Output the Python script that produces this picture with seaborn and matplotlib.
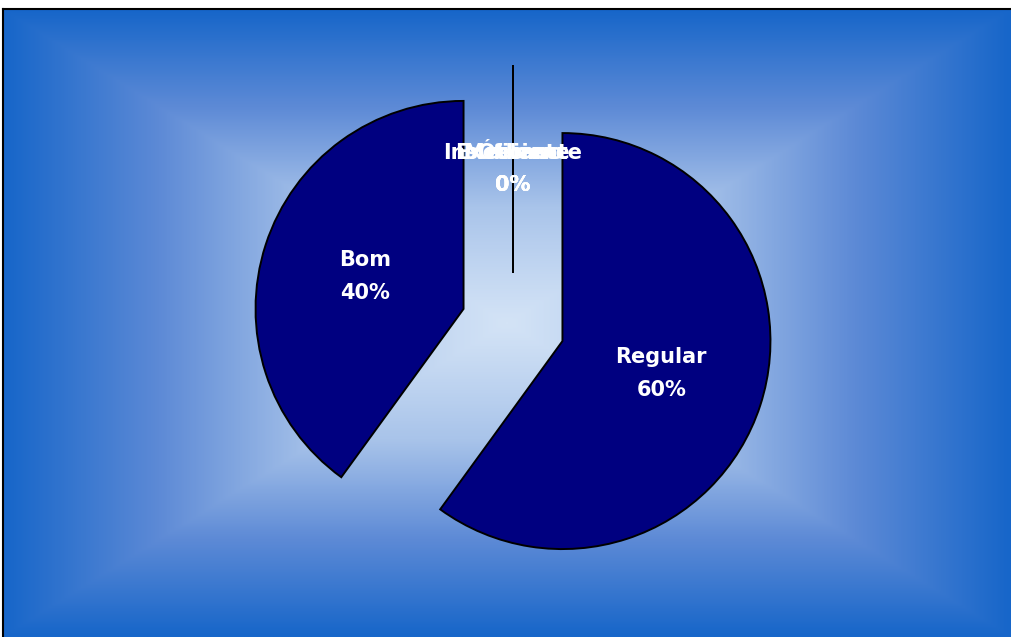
import numpy as np
import matplotlib
matplotlib.use("Agg")
import matplotlib.pyplot as plt
import seaborn as sns
from matplotlib.colors import LinearSegmentedColormap

# data
categories = ["Insuficiente", "Mediano", "Ótimo", "Excelente", "Regular", "Bom"]
percentages = [0, 0, 0, 0, 60, 40]

sns.set_style("white")
plt.rcParams["font.family"] = ["DejaVu Sans"]

W, H = 1011, 637
fig = plt.figure(figsize=(W / 100, H / 100), dpi=100)
fig.patch.set_facecolor("white")

# background panel with rectangular "from centre" gradient
bg = fig.add_axes([3 / W, 0, 1 - 3 / W, 1 - 9 / H])
nx, ny = 400, 260
gx = np.linspace(-1, 1, nx)
gy = np.linspace(-1, 1, ny)
X, Y = np.meshgrid(gx, gy)
t = np.maximum(np.abs(X), np.abs(Y))
cmap = LinearSegmentedColormap.from_list(
    "bgblue", ["#d3e3f6", "#a9c4ea", "#5d8ad6", "#1766c9"], N=256)
bg.imshow(t ** 1.1, cmap=cmap, aspect="auto", extent=(0, 1, 0, 1),
          interpolation="bilinear", vmin=0, vmax=1)
bg.set_xticks([])
bg.set_yticks([])
for side, s in bg.spines.items():
    s.set_color("black")
    s.set_linewidth(1.5)
    if side in ("right", "bottom"):
        s.set_visible(False)

# pie axes, scaled so the radius is about 208 px
R = 208
cx, cy = 513, H - 325
ax = fig.add_axes([0, 0, 1, 1])
ax.patch.set_alpha(0)

labels = [f"{c}\n{p}%" for c, p in zip(categories, percentages)]
wedges, texts = ax.pie(
    percentages,
    labels=labels,
    explode=[0.25] * len(percentages),
    startangle=90,
    counterclock=False,
    colors=["#000080"] * len(percentages),
    labeldistance=0.5,
    wedgeprops=dict(edgecolor="black", linewidth=1.4),
    textprops=dict(color="white", fontsize=15, fontweight="bold",
                   linespacing=1.8),
)
for txt in texts:
    txt.set_ha("center")
    txt.set_va("center")

ax.set_aspect("auto")
ax.set_xlim(-cx / R, (W - cx) / R)
ax.set_ylim(-cy / R, (H - cy) / R)
ax.axis("off")

fig.savefig("out.png", dpi=100)
